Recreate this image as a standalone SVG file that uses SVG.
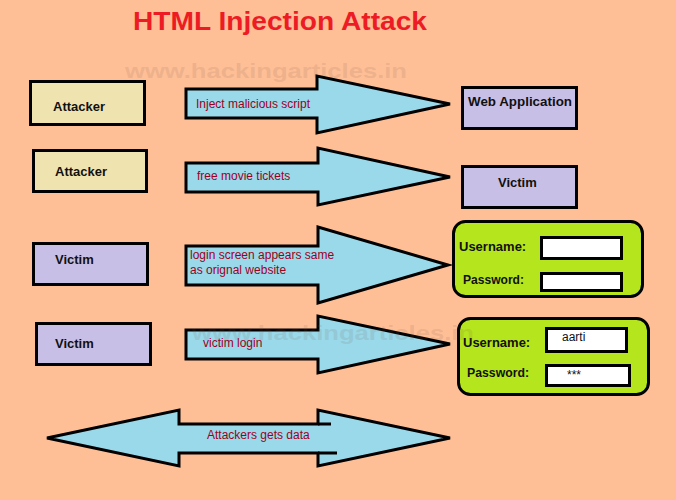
<svg xmlns="http://www.w3.org/2000/svg" width="676" height="500" viewBox="0 0 676 500">
<style>
.bg{fill:#FFBF96}
.box{stroke:#000;stroke-width:3}
.yellow{fill:#EFE4B0}
.lav{fill:#C8BFE7}
.form{fill:#B5E61D;stroke:#000;stroke-width:3}
.inp{fill:#fff;stroke:#000;stroke-width:3}
.arrow{fill:#99D9EA;stroke:#000;stroke-width:3;stroke-linejoin:miter}
.stub{stroke:#000;stroke-width:3;fill:none}
.lbl{font-family:"Liberation Sans",Arial,sans-serif;font-size:13px;font-weight:bold;fill:#111}
.alb{font-family:"Liberation Sans",Arial,sans-serif;font-size:12px;fill:#9E0020}
.val{font-family:"Liberation Sans",Arial,sans-serif;font-size:12px;fill:#111}
.wm{font-family:"Liberation Sans",Arial,sans-serif;font-size:21px;font-weight:bold;fill:#7a5a48;opacity:0.13}
</style>
<rect class="bg" x="0" y="0" width="676" height="500"/>
<text x="133" y="30" font-family="'Liberation Sans',Arial,sans-serif" font-size="25" font-weight="bold" fill="#ED1C24" textLength="294" lengthAdjust="spacingAndGlyphs">HTML Injection Attack</text>
<text class="wm" x="125" y="78" textLength="282" lengthAdjust="spacingAndGlyphs">www.hackingarticles.in</text>

<g id="connectors">
<polygon class="arrow" points="186,89 317,89 317,76 450,104 317,133 317,118 186,118"/>
<polygon class="arrow" points="186,163 318,163 318,148 450,177 318,205 318,192 186,192"/>
<polygon class="arrow" points="186,246 318,246 318,227 448,265 318,303 318,285 186,285"/>
<polygon class="arrow" points="186,330 318,330 318,316 450,344 318,373 318,359 186,359"/>
<polygon class="arrow" points="47,438 179,410 179,424 318,424 318,410 450,438 318,466 318,453 179,453 179,466"/>
<line class="stub" x1="318" y1="424" x2="331" y2="424"/>
<line class="stub" x1="318" y1="453" x2="337" y2="453"/>
<text class="alb" x="196" y="108">Inject malicious script</text>
<text class="alb" x="197" y="180">free movie tickets</text>
<text class="alb" x="190" y="259">login screen appears same</text>
<text class="alb" x="190" y="274">as orignal website</text>
<text class="alb" x="203" y="347">victim login</text>
<text class="alb" x="207" y="439">Attackers gets data</text>
</g>

<g id="attacker1">
<rect class="box yellow" x="30.5" y="81.5" width="114" height="43"/>
<text class="lbl" x="53" y="111">Attacker</text>
</g>
<g id="webapp">
<rect class="box lav" x="462.5" y="87.5" width="114" height="41"/>
<text class="lbl" x="468" y="106" textLength="104" lengthAdjust="spacingAndGlyphs">Web Application</text>
</g>
<g id="attacker2">
<rect class="box yellow" x="33.5" y="150.5" width="113" height="41"/>
<text class="lbl" x="55" y="176">Attacker</text>
</g>
<g id="victim1">
<rect class="box lav" x="462.5" y="166.5" width="114" height="41"/>
<text class="lbl" x="498" y="187">Victim</text>
</g>
<g id="victim2">
<rect class="box lav" x="33.5" y="243.5" width="114" height="41"/>
<text class="lbl" x="55" y="264">Victim</text>
</g>
<g id="victim3">
<rect class="box lav" x="36.5" y="323.5" width="114" height="41"/>
<text class="lbl" x="55" y="348">Victim</text>
</g>
<g id="login1">
<rect class="form" x="453.5" y="221.5" width="189" height="75" rx="12"/>
<text class="lbl" x="459" y="251">Username:</text>
<rect class="inp" x="541.5" y="237.5" width="80" height="21"/>
<text class="lbl" x="463" y="284" textLength="61" lengthAdjust="spacingAndGlyphs">Password:</text>
<rect class="inp" x="541.5" y="273.5" width="80" height="17"/>
</g>
<g id="login2">
<rect class="form" x="458.5" y="318.5" width="190" height="76" rx="12"/>
<text class="lbl" x="463" y="347">Username:</text>
<rect class="inp" x="546.5" y="328.5" width="80" height="23"/>
<text class="val" x="562" y="341">aarti</text>
<text class="lbl" x="467" y="377" textLength="62" lengthAdjust="spacingAndGlyphs">Password:</text>
<rect class="inp" x="546.5" y="365.5" width="83" height="20"/>
<text class="val" x="567" y="379">***</text>
</g>
<text class="wm" x="192" y="340" textLength="282" lengthAdjust="spacingAndGlyphs">www.hackingarticles.in</text>
</svg>
